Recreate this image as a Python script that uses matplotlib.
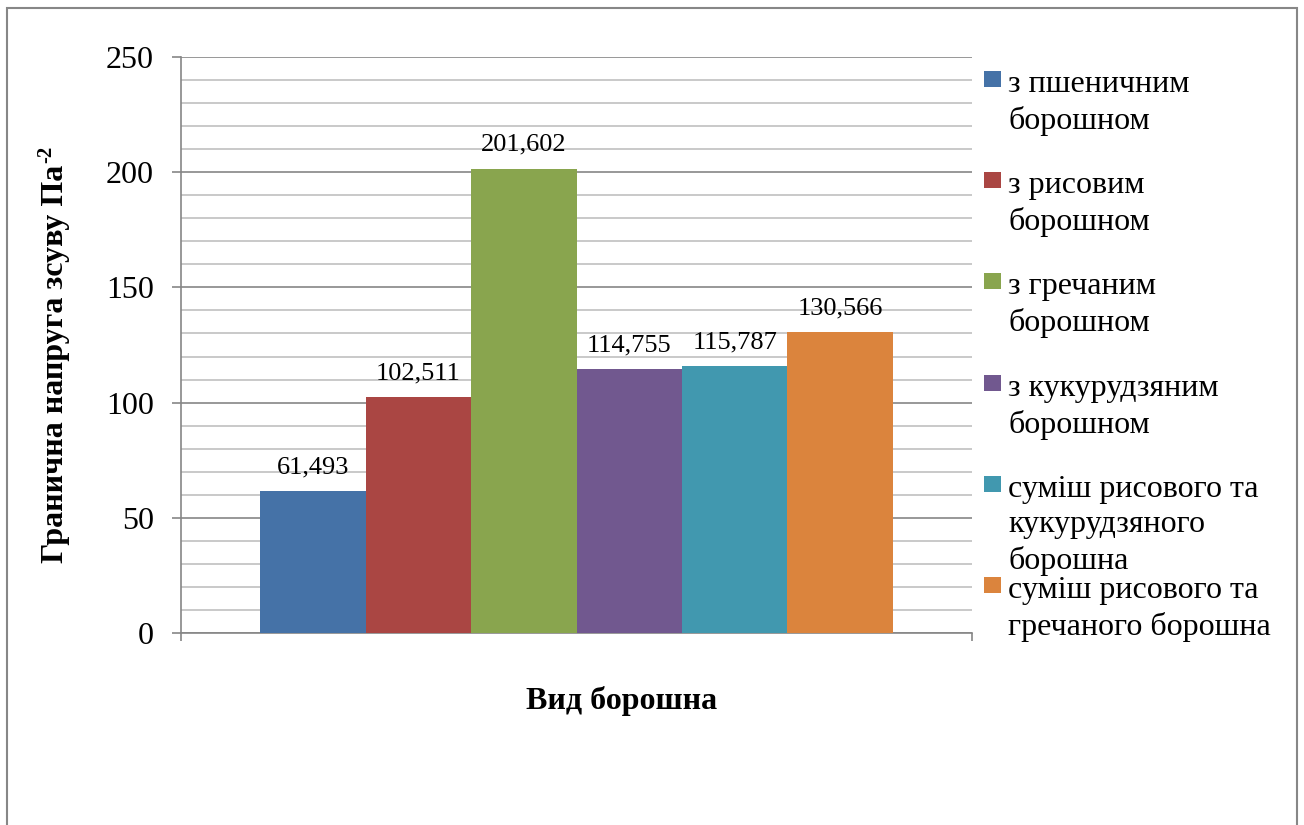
import numpy as np
import matplotlib
matplotlib.use('Agg')
import matplotlib.pyplot as plt
from matplotlib.patches import Rectangle
from matplotlib.ticker import MultipleLocator

# ---------- шрифти ----------
plt.rcParams['font.family'] = ['Liberation Serif', 'DejaVu Serif']

# ---------- дані ----------
series_names = ['з пшеничним\nборошном',
                'з рисовим\nборошном',
                'з гречаним\nборошном',
                'з кукурудзяним\nборошном',
                'суміш рисового та\nкукурудзяного\nборошна',
                'суміш рисового та\nгречаного борошна']
values = [61.493, 102.511, 201.602, 114.755, 115.787, 130.566]
colors = ['#4572A7', '#AA4643', '#89A54E', '#71588F', '#4198AF', '#DB843D']
y_ticks = [0, 50, 100, 150, 200, 250]

ylabel = 'Гранична напруга зсуву Па'
ylabel_sup = '-2'
xlabel = 'Вид борошна'

W, H = 1304, 825


def fx(px):
    return px / W


def fy(py):
    return 1 - py / H


fig = plt.figure(figsize=(W / 100, H / 100), dpi=100)
ax = fig.add_axes([fx(181), fy(633), fx(972) - fx(181), fy(57) - fy(633)])

# стовпці: одна категорія, 6 рядів, проміжок 150%
n = len(values)
bw = 0.8 / n
xs = 0.1 + bw * (np.arange(n) + 0.5)
ax.bar(xs, values, width=bw, color=colors, linewidth=0, zorder=3)

for x, v in zip(xs, values):
    ax.annotate(f'{v:.3f}'.replace('.', ','), (x, v), xytext=(0, 17),
                textcoords='offset points', ha='center', va='center',
                fontsize=19, zorder=4)

ax.set_xlim(0, 1)
ax.set_ylim(0, 250)
ax.set_yticks(y_ticks)
ax.yaxis.set_minor_locator(MultipleLocator(10))
ax.set_xticks([0, 1])
ax.set_xticklabels([])

ax.set_axisbelow(True)
ax.grid(which='major', axis='y', color='#868686', linewidth=1.2)
ax.grid(which='minor', axis='y', color='#c0c0c0', linewidth=1.2)

for s in ['top', 'right']:
    ax.spines[s].set_visible(False)
for s in ['left', 'bottom']:
    ax.spines[s].set_color('#868686')
    ax.spines[s].set_linewidth(1.2)

ax.tick_params(axis='y', which='major', direction='out', length=6.5,
               width=1.2, color='#868686', pad=13, labelsize=23)
ax.tick_params(axis='y', which='minor', length=0)
ax.tick_params(axis='x', direction='out', length=6, width=1.2,
               color='#868686')

# підписи осей
yl = fig.text(fx(56), fy(364), ylabel, rotation=90, ha='center', va='center',
              fontsize=23, fontweight='bold')
fig.text(fx(622), fy(701), xlabel, ha='center', va='center',
         fontsize=23, fontweight='bold')

# верхній індекс до Па
fig.canvas.draw()
bb = yl.get_window_extent()
fig.text(fx(46), bb.y1 / H + 2 / H, ylabel_sup, rotation=90, ha='center',
         va='bottom', fontsize=15, fontweight='bold')

# легенда (як у Excel: рівний крок, текст від верху)
leg_top = 71
leg_step = 101.2
for i, (name, col) in enumerate(zip(series_names, colors)):
    yt = leg_top + i * leg_step
    fig.patches.append(Rectangle((fx(984), fy(yt + 16)), fx(17), fy(yt) - fy(yt + 16),
                                 transform=fig.transFigure, color=col,
                                 linewidth=0))
    fig.text(fx(1008), fy(yt - 1), name, ha='left', va='top',
             fontsize=23, linespacing=1.3)

# рамка діаграми
fig.patches.append(Rectangle((fx(7), -0.1), fx(1297) - fx(7), fy(8) + 0.1,
                             transform=fig.transFigure, fill=False,
                             edgecolor='#878787', linewidth=1.5, clip_on=False))

fig.savefig('out.png', dpi=100)
